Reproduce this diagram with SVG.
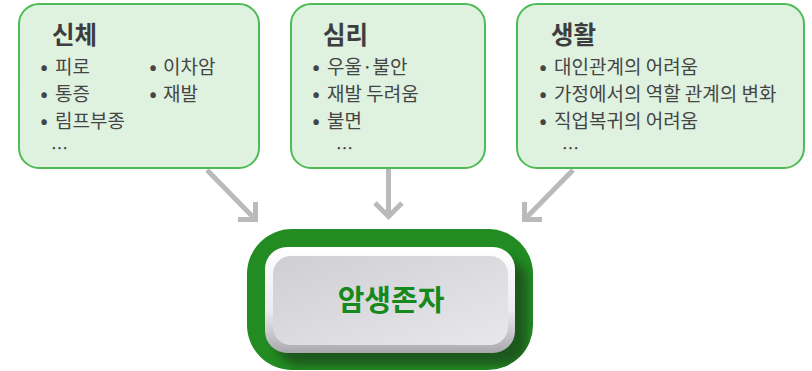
<svg xmlns="http://www.w3.org/2000/svg" width="812" height="371" viewBox="0 0 812 371">
<defs>
<style>
.box{fill:#dff1df;stroke:#4fbb55;stroke-width:2}
.title{font-family:"Noto Sans CJK KR","Noto Sans",sans-serif;font-weight:bold;font-size:24.5px;fill:#3d3d3d}
.item{font-family:"Noto Sans CJK KR","Noto Sans",sans-serif;font-size:19px;fill:#454545}
.dots{font-family:"Noto Sans CJK KR","Noto Sans",sans-serif;font-size:17px;fill:#454545}
.bul{text-anchor:middle;font-weight:bold}
.arrow{fill:none;stroke:#b9babc;stroke-width:5;stroke-linejoin:miter}
.main{font-family:"Noto Sans CJK KR","Noto Sans",sans-serif;font-weight:bold;font-size:29px;fill:#16891c;text-anchor:middle}
</style>
<linearGradient id="bevel" x1="0" y1="0" x2="0" y2="1">
<stop offset="0" stop-color="#ffffff"/>
<stop offset="0.6" stop-color="#ececee"/>
<stop offset="1" stop-color="#a9a9ad"/>
</linearGradient>
<linearGradient id="face" x1="0" y1="0" x2="1" y2="1">
<stop offset="0" stop-color="#cfcfd3"/>
<stop offset="1" stop-color="#e8e8ec"/>
</linearGradient>
<clipPath id="outerClip"><rect x="247" y="229" width="286" height="141" rx="45"/></clipPath>
<filter id="blur" x="-20%" y="-20%" width="140%" height="140%"><feGaussianBlur stdDeviation="5"/></filter>
</defs>

<g id="connectors">
<path class="arrow" d="M207 170 L255 219"/>
<path class="arrow" d="M238 219.5 H255.5 V202"/>
<path class="arrow" d="M388.5 169 V216"/>
<path class="arrow" d="M375 203 L388.5 216.5 L402 203"/>
<path class="arrow" d="M573 170 L525 219"/>
<path class="arrow" d="M542 219.5 H524.5 V202"/>
</g>

<g id="node-body">
<rect class="box" x="19" y="4" width="240" height="164" rx="20"/>
<text class="title" x="52" y="44">신체</text>
<text class="item"><tspan class="bul" x="44" y="74">•</tspan><tspan x="55" y="74">피로</tspan></text>
<text class="item"><tspan class="bul" x="44" y="101">•</tspan><tspan x="55" y="101">통증</tspan></text>
<text class="item"><tspan class="bul" x="44" y="128">•</tspan><tspan x="55" y="128">림프부종</tspan></text>
<text class="item"><tspan class="bul" x="153" y="74">•</tspan><tspan x="163" y="74">이차암</tspan></text>
<text class="item"><tspan class="bul" x="153" y="101">•</tspan><tspan x="163" y="101">재발</tspan></text>
<text class="dots" x="51" y="155">…</text>
</g>

<g id="node-mind">
<rect class="box" x="291" y="4" width="194" height="164" rx="20"/>
<text class="title" x="323" y="44">심리</text>
<text class="item"><tspan class="bul" x="316" y="74">•</tspan><tspan x="327" y="74">우울·불안</tspan></text>
<text class="item"><tspan class="bul" x="316" y="101">•</tspan><tspan x="327" y="101">재발 두려움</tspan></text>
<text class="item"><tspan class="bul" x="316" y="128">•</tspan><tspan x="327" y="128">불면</tspan></text>
<text class="dots" x="336" y="155">…</text>
</g>

<g id="node-life">
<rect class="box" x="517" y="4" width="287" height="164" rx="20"/>
<text class="title" x="551" y="44">생활</text>
<text class="item"><tspan class="bul" x="543" y="74">•</tspan><tspan x="554" y="74">대인관계의 어려움</tspan></text>
<text class="item"><tspan class="bul" x="543" y="101">•</tspan><tspan x="554" y="101">가정에서의 역할 관계의 변화</tspan></text>
<text class="item"><tspan class="bul" x="543" y="128">•</tspan><tspan x="554" y="128">직업복귀의 어려움</tspan></text>
<text class="dots" x="562" y="155">…</text>
</g>

<g id="node-survivor">
<rect x="247" y="229" width="286" height="141" rx="45" fill="#228b22"/>
<g clip-path="url(#outerClip)">
<rect x="277" y="259" width="250" height="106" rx="22" fill="#1c4f1c" opacity="0.85" filter="url(#blur)"/>
</g>
<rect x="265" y="247" width="250" height="106" rx="22" fill="url(#bevel)"/>
<rect x="273" y="256" width="235" height="89" rx="18" fill="url(#face)"/>
<text class="main" x="391" y="311">암생존자</text>
</g>
</svg>
